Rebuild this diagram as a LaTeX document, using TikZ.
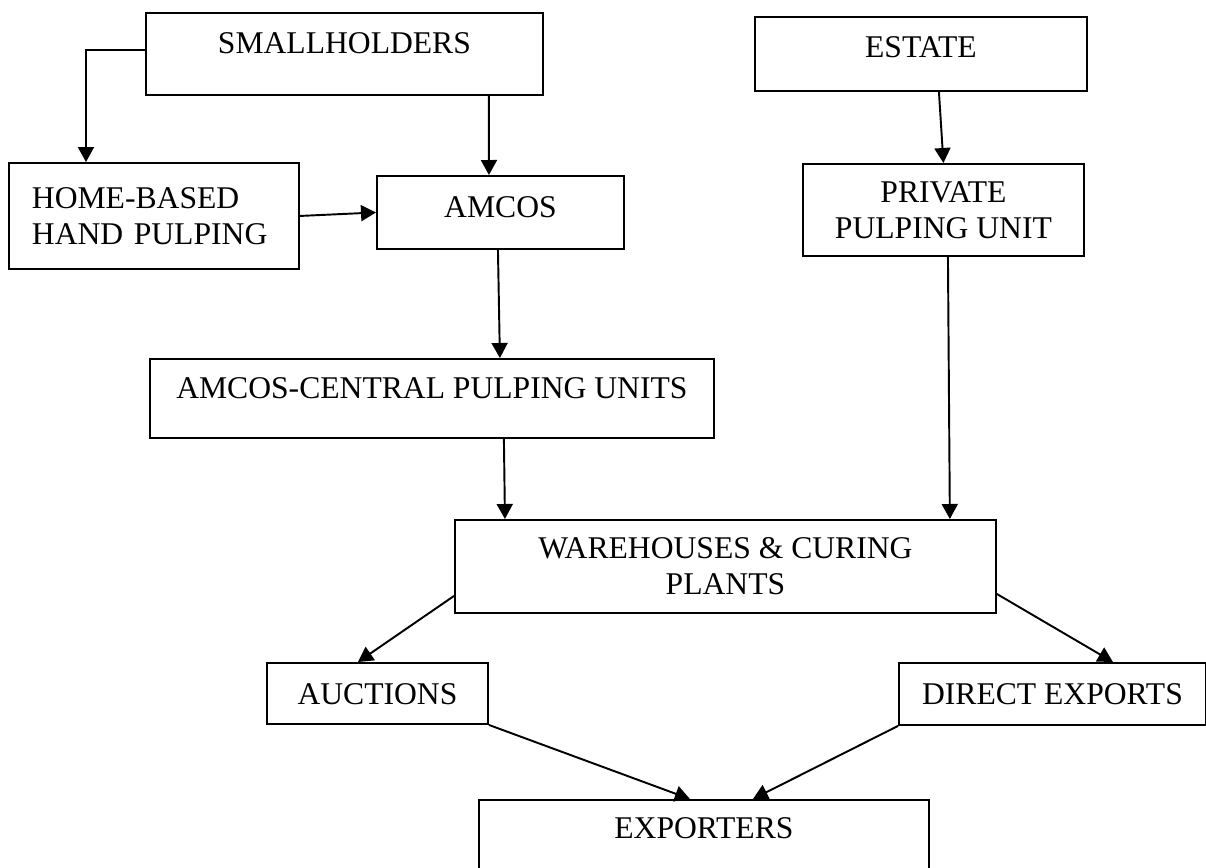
\documentclass[tikz,border=0pt]{standalone}
\usepackage{fontspec}
\setmainfont{Liberation Serif}
\usetikzlibrary{arrows.meta}

\begin{document}
\begin{tikzpicture}[x=0.02cm,y=-0.02cm,
        box/.style={draw,line width=1.1pt,inner sep=0pt,anchor=north west,font=\fontsize{18}{20.5}\selectfont},
        flow/.style={line width=1.1pt,-{Triangle[length=0.3cm,width=0.32cm]}}]
        \useasboundingbox (0,0) rectangle (1206,868);
        \clip (0,0) rectangle (1206,868);
        \node[box,minimum width=7.94cm,text height=0.82cm,text depth=0.82cm] (small) at (145,12) {SMALLHOLDERS};
        \node[box,minimum width=6.64cm,text height=0.82cm,text depth=0.66cm] (estate) at (754,16) {ESTATE};
        \node[box,align=left,text width=4.88cm,inner xsep=0.46cm,minimum height=2.12cm] (home) at (8,162) {HOME-BASED\\HAND PULPING};
        \node[box,minimum width=4.94cm,text height=0.84cm,text depth=0.62cm] (amcos) at (376,175) {AMCOS};
        \node[box,align=center,minimum width=5.62cm,minimum height=1.84cm] (private) at (802,163) {PRIVATE\\PULPING UNIT};
        \node[box,minimum width=11.28cm,text height=0.80cm,text depth=0.78cm] (central) at (149,358) {AMCOS-CENTRAL PULPING UNITS};
        \node[box,align=center,minimum width=10.82cm,minimum height=1.86cm] (warehouse) at (454,519) {WAREHOUSES \& CURING\\PLANTS};
        \node[box,minimum width=4.42cm,text height=0.84cm,text depth=0.38cm] (auctions) at (266,662) {AUCTIONS};
        \node[box,minimum width=6.14cm,text height=0.84cm,text depth=0.40cm] (direct) at (898,662) {DIRECT EXPORTS};
        \node[box,minimum width=9cm,text height=0.78cm,text depth=1.04cm] (exporters) at (478,799) {EXPORTERS};
        \draw[flow] ([yshift=0.08cm]small.west) -| ([xshift=1.56cm]home.north west);
        \draw[flow] ([xshift=2.89cm]small.south) -- ([xshift=-0.23cm]amcos.north);
        \draw[flow] (home.east) -- (amcos.west);
        \draw[flow] ([xshift=-0.05cm]amcos.south) -- ([xshift=1.36cm]central.north);
        \draw[flow] ([xshift=0.36cm]estate.south) -- (private.north);
        \draw[flow] ([xshift=0.09cm]private.south) -- ([xshift=4.49cm]warehouse.north);
        \draw[flow] ([xshift=1.44cm]central.south) -- ([xshift=-4.41cm]warehouse.north);
        \draw[flow] ([yshift=-0.59cm]warehouse.west) -- ([xshift=-0.39cm]auctions.north);
        \draw[flow] ([yshift=-0.55cm]warehouse.east) -- ([xshift=1.21cm]direct.north);
        \draw[flow] (auctions.south east) -- ([xshift=-0.28cm]exporters.north);
        \draw[flow] (direct.south west) -- ([xshift=0.98cm]exporters.north);
    \end{tikzpicture}
\end{document}
